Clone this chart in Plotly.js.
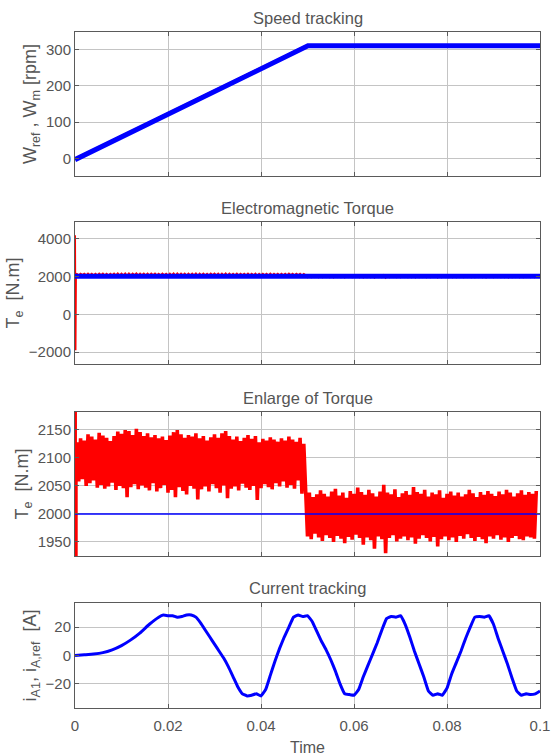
<!DOCTYPE html>
<html>
<head>
<meta charset="utf-8">
<script src="https://cdn.plot.ly/plotly-3.0.1.min.js"></script>
<style>html,body{margin:0;padding:0;background:#fff;}#chart{width:551px;height:756px;}</style>
</head>
<body>
<div id="chart"></div>
<script>
// ---------- data ----------
const panelTitles = ["Speed tracking", "Electromagnetic Torque", "Enlarge of Torque", "Current tracking"];
const xTickVals = [0, 0.02, 0.04, 0.06, 0.08, 0.1];
const xTickText = ["0", "0.02", "0.04", "0.06", "0.08", "0.1"];

// speed (rpm)
const tSpeedRef = [0, 0.05, 0.1];
const speedRef = [0, 312, 312];
const tSpeedMeas = [0, 0.0501, 0.1];
const speedMeas = [-3, 310, 310];

// torque reference (N.m)
const tTorqueRef = [0, 0.1];
const torqueRef = [2000, 2000];

// electromagnetic torque: start-up spike then ripple band (peaks / troughs)
const tStart = [0, 0.0001, 0.0002];
const torqueStart = [4170, -1900, 2100];
const sampleStep = 0.0004;
const torqueHigh1 = [2128,2135,2131,2142,2138,2133,2145,2140,2136,2130,2139,2147,2143,2150,2148,2141,2152,2146,2139,2144,2137,2141,2135,2138,2132,2140,2146,2150,2142,2136,2141,2138,2144,2135,2139,2131,2137,2142,2136,2144,2148,2139,2133,2138,2130,2136,2141,2134,2139,2128,2134,2131,2137,2133,2129,2135,2131,2138,2133,2129,2136,2125];
const torqueLow1 = [2058,2062,2050,2055,2060,2047,2052,2045,2049,2056,2043,2050,2046,2030,2048,2053,2044,2051,2047,2042,2055,2040,2046,2052,2038,2043,2030,2048,2041,2035,2050,2045,2026,2044,2049,2040,2053,2046,2038,2051,2028,2045,2049,2042,2054,2047,2043,2050,2025,2046,2053,2048,2044,2055,2049,2058,2047,2052,2045,2060,2036,2050];
const torqueHigh2 = [2038,2030,2035,2042,2036,2031,2040,2045,2033,2038,2029,2041,2036,2047,2039,2034,2043,2037,2031,2040,2052,2038,2035,2044,2030,2037,2041,2034,2048,2039,2036,2043,2031,2038,2035,2042,2029,2036,2040,2033,2038,2031,2035,2043,2037,2030,2039,2034,2041,2036,2032,2040,2035,2043,2038,2031,2037,2042,2034,2039,2036,2041];
const torqueLow2 = [1960,1955,1965,1958,1952,1962,1957,1950,1961,1956,1948,1959,1954,1963,1957,1945,1958,1953,1938,1960,1955,1930,1957,1962,1951,1956,1960,1953,1958,1947,1956,1962,1957,1951,1959,1942,1955,1960,1953,1958,1950,1961,1956,1964,1957,1952,1959,1955,1948,1960,1956,1962,1954,1958,1950,1957,1961,1955,1953,1960,1958,1956];

// phase current (A)
const tCurrent = [0,0.002,0.004,0.006,0.008,0.010,0.012,0.014,0.016,0.018,0.019,0.020,0.021,0.022,0.023,0.024,0.025,0.026,0.027,0.028,0.029,0.030,0.031,0.032,0.033,0.034,0.035,0.036,0.037,0.038,0.039,0.040,0.041,0.042,0.043,0.044,0.045,0.046,0.047,0.048,0.049,0.050,0.051,0.052,0.053,0.054,0.055,0.056,0.057,0.058,0.059,0.060,0.061,0.062,0.063,0.064,0.065,0.066,0.067,0.068,0.069,0.070,0.071,0.072,0.073,0.074,0.075,0.076,0.077,0.078,0.079,0.080,0.081,0.082,0.083,0.084,0.085,0.086,0.087,0.088,0.089,0.090,0.091,0.092,0.093,0.094,0.095,0.096,0.097,0.098,0.099,0.100];
const current = [0,0.5,1,2,4,7,11,16,22,27,28.5,28,28,27,27.5,28.5,28.5,27,23,18,13,8,3,-2,-8,-15,-22,-27,-28.5,-28,-27,-28.5,-24,-14,-4,5,13,20,27,28.5,27.5,28,24,17,10,4,-3,-11,-20,-27,-27.5,-28,-24,-15,-7,1,9,18,26,27.5,27,28,22,13,3,-6,-15,-25,-28,-27,-28,-23,-13,-5,3,12,20,27,27.5,27,28,22,12,3,-6,-16,-25,-28,-27,-27.5,-27,-25];

// ---------- build torque trace from read samples ----------
const tTorque = tStart.slice();
const torque = torqueStart.slice();
let tk = 0.0004;
for (let i = 0; i < torqueHigh1.length; i++) {
  tTorque.push(tk); torque.push(torqueHigh1[i]); tk += sampleStep;
  tTorque.push(tk); torque.push(torqueLow1[i]); tk += sampleStep;
}
tk = 0.0500;
for (let i = 0; i < torqueHigh2.length; i++) {
  tTorque.push(tk); torque.push(torqueLow2[i]); tk += sampleStep;
  tTorque.push(tk); torque.push(torqueHigh2[i]); tk += sampleStep;
}

// ---------- styling ----------
const RED = "#ff0000", BLUE = "#0000ff";
const FONT = "Liberation Sans, Arial, sans-serif";
const TXT = "#555555";

const traces = [
  {x: tSpeedRef, y: speedRef, type: "scatter", mode: "lines", line: {color: RED, width: 2}, xaxis: "x", yaxis: "y"},
  {x: tSpeedMeas, y: speedMeas, type: "scatter", mode: "lines", line: {color: BLUE, width: 5}, xaxis: "x", yaxis: "y"},
  {x: tTorque, y: torque, type: "scatter", mode: "lines", line: {color: RED, width: 2}, xaxis: "x2", yaxis: "y2"},
  {x: tTorqueRef, y: torqueRef, type: "scatter", mode: "lines", line: {color: BLUE, width: 5}, xaxis: "x2", yaxis: "y2"},
  {x: tTorque, y: torque, type: "scatter", mode: "lines", line: {color: RED, width: 3.6}, xaxis: "x3", yaxis: "y3"},
  {x: tTorqueRef, y: torqueRef, type: "scatter", mode: "lines", line: {color: BLUE, width: 1.5}, xaxis: "x3", yaxis: "y3"},
  {x: tCurrent, y: current, type: "scatter", mode: "lines", line: {color: BLUE, width: 3, shape: "spline", smoothing: 0.3}, xaxis: "x4", yaxis: "y4"}
];

function xAx(anchor, showLabels) {
  return {
    domain: [0, 1], anchor: anchor, range: [0, 0.1],
    tickvals: xTickVals, ticktext: xTickText, showticklabels: showLabels,
    showgrid: true, gridcolor: "#c4c4c4", gridwidth: 1, zeroline: false,
    showline: true, mirror: "ticks", linecolor: "#5a5a5a", linewidth: 1,
    ticks: "inside", ticklen: 4, tickcolor: "#5a5a5a", ticklabelstandoff: 4,
    tickfont: {family: FONT, size: 15, color: TXT}
  };
}
function yAx(anchor, domain, range, tickvals, title) {
  return {
    domain: domain, anchor: anchor, range: range, tickvals: tickvals,
    showgrid: true, gridcolor: "#c4c4c4", gridwidth: 1, zeroline: false,
    showline: true, mirror: "ticks", linecolor: "#5a5a5a", linewidth: 1,
    ticks: "inside", ticklen: 4, tickcolor: "#5a5a5a",
    tickfont: {family: FONT, size: 15, color: TXT},
    title: {text: title, font: {family: FONT, size: 18, color: TXT}, standoff: 4}
  };
}

const titleY = [0.976, 0.7249, 0.4735, 0.2222];
const layout = {
  width: 551, height: 756,
  margin: {l: 75, r: 11, t: 0, b: 0},
  paper_bgcolor: "#ffffff", plot_bgcolor: "#ffffff",
  showlegend: false,
  xaxis: xAx("y", false),
  xaxis2: xAx("y2", false),
  xaxis3: xAx("y3", false),
  xaxis4: Object.assign(xAx("y4", true), {title: {text: "Time", font: {family: FONT, size: 16, color: TXT}, standoff: 8}}),
  yaxis: yAx("x", [0.7672, 0.9577], [-48, 348], [0, 100, 200, 300], "W<sub>ref</sub> , W<sub>m</sub> [rpm]"),
  yaxis2: yAx("x2", [0.5185, 0.7063], [-2620, 4860], [-2000, 0, 2000, 4000], "T<sub>e</sub>  [N.m]"),
  yaxis3: yAx("x3", [0.2646, 0.4550], [1925, 2182], [1950, 2000, 2050, 2100, 2150], "T<sub>e</sub>  [N.m]"),
  yaxis4: yAx("x4", [0.0635, 0.2024], [-37, 37], [-20, 0, 20], "i<sub>A1</sub>, i<sub>A,ref</sub>  [A]"),
  annotations: panelTitles.map((t, i) => ({
    text: t, xref: "paper", yref: "paper", x: 0.5, y: titleY[i],
    xanchor: "center", yanchor: "middle", showarrow: false,
    font: {family: FONT, size: 16.5, color: TXT}
  }))
};

Plotly.newPlot("chart", traces, layout, {staticPlot: true, displayModeBar: false});
</script>
</body>
</html>
